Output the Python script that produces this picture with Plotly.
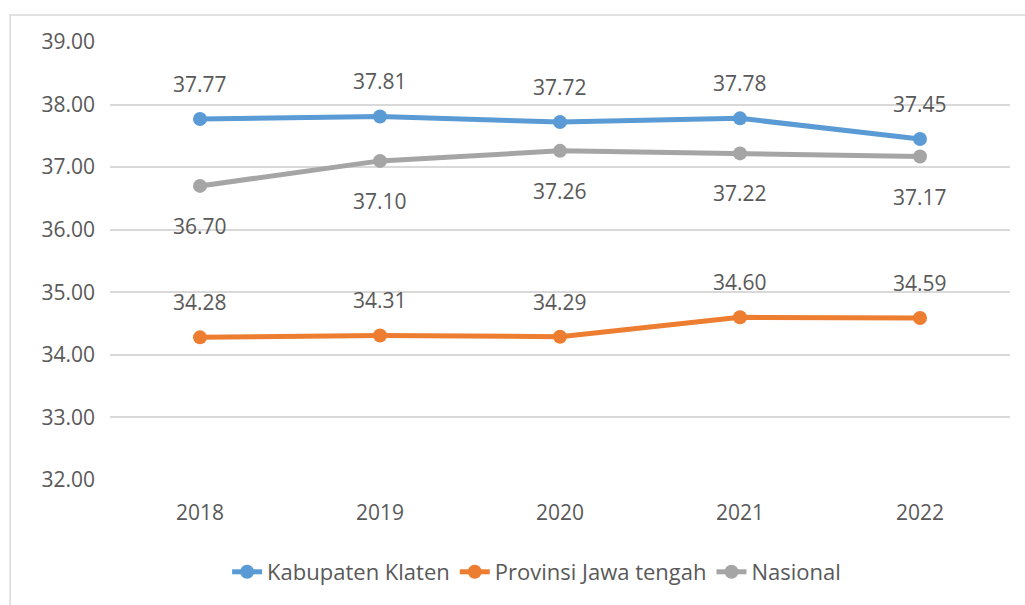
import plotly.graph_objects as go

years = ["2018", "2019", "2020", "2021", "2022"]
klaten = [37.77, 37.81, 37.72, 37.78, 37.45]
jateng = [34.28, 34.31, 34.29, 34.60, 34.59]
nasional = [36.70, 37.10, 37.26, 37.22, 37.17]

# name, values, colour, vertical label shift in px (positive = above the point)
series = [
    ("Kabupaten Klaten", klaten, "#5B9BD5", 35),
    ("Provinsi Jawa tengah", jateng, "#ED7D31", 35),
    ("Nasional", nasional, "#A5A5A5", -40),
]

font_family = "Open Sans, Liberation Sans, sans-serif"
text_color = "#595959"
fsize = 21

fig = go.Figure()
annotations = []
for name, vals, color, shift in series:
    fig.add_trace(go.Scatter(
        x=years, y=vals, name=name,
        mode="lines+markers",
        line=dict(color=color, width=5),
        marker=dict(color=color, size=14),
        cliponaxis=False,
    ))
    # value labels, positioned by category index on the category axis
    for i, v in enumerate(vals):
        annotations.append(dict(
            x=i, y=v, xref="x", yref="y", text=f"{v:.2f}", showarrow=False,
            yshift=shift, yanchor="middle", xanchor="center",
            font=dict(size=fsize, color=text_color, family=font_family),
        ))

fig.update_layout(
    width=1025, height=605,
    margin=dict(l=110, r=15, t=42, b=125),
    paper_bgcolor="white", plot_bgcolor="white",
    font=dict(family=font_family, color=text_color, size=fsize),
    showlegend=True,
    legend=dict(orientation="h", x=0.474, xanchor="center", y=-0.21, yanchor="middle",
                font=dict(size=22, color=text_color), itemwidth=30, tracegroupgap=0),
    xaxis=dict(type="category", range=[-0.5, 4.5], showgrid=False, showline=False,
               ticks="", tickfont=dict(size=fsize, color=text_color), ticklabelstandoff=18),
    yaxis=dict(range=[32, 39], dtick=1, tickformat=".2f", showgrid=True,
               gridcolor="#D9D9D9", gridwidth=1.5, zeroline=False, showline=False,
               ticks="", tickfont=dict(size=fsize, color=text_color), ticklabelstandoff=14),
    annotations=annotations,
    shapes=[dict(type="rect", xref="paper", yref="paper", x0=-0.111, x1=1.05,
                 y0=-0.5, y1=1.0616, line=dict(color="#D9D9D9", width=1.5),
                 fillcolor="rgba(0,0,0,0)", layer="below")],
)

fig.write_html("out.html")
